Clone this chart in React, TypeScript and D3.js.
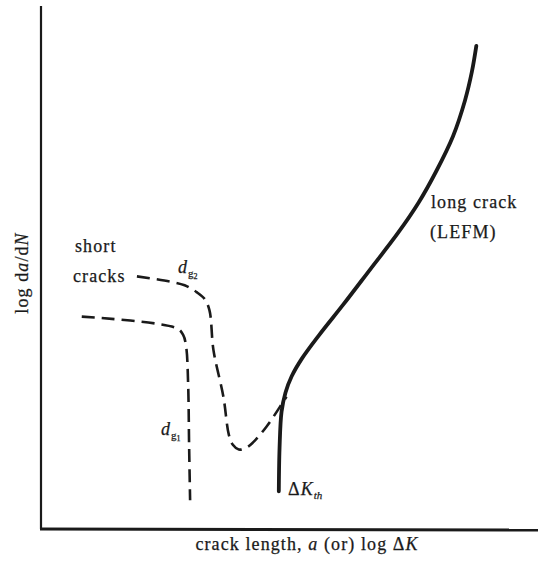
import React from "react";
import * as d3 from "d3";

// Schematic values in arbitrary units (x: 0–100 = crack length / log ΔK, y: 0–100 = log da/dN)
const longCrackX = [47.85, 48.0, 48.4, 49.2, 50.44, 52.52, 55.96, 60.8, 66.32, 71.83, 75.99, 79.44, 82.9, 85.31, 86.7, 87.59];
const longCrackY = [7.2, 15.5, 22.4, 26.1, 29.2, 32.62, 37.08, 42.89, 49.75, 56.6, 62.43, 68.26, 75.11, 81.95, 87.44, 92.37];

const dg2X = [19.3, 26.0, 28.9, 31.3, 32.9, 33.9, 34.7, 36.7, 37.8, 38.6, 39.8, 41.2, 42.5, 45.4, 48.1, 49.4];
const dg2Y = [48.3, 47.3, 46.6, 45.3, 44.0, 41.8, 34.2, 25.3, 18.0, 16.1, 15.2, 15.5, 16.4, 19.6, 23.4, 25.3];

const dg1X = [8.2, 27.3, 28.6, 29.2, 29.6, 29.8, 30.0];
const dg1Y = [40.6, 38.4, 37.1, 34.9, 27.9, 16.0, 5.5];

const xLabel = "crack length, ";
const yLabel = "log d";

const W = 538;
const H = 562;
const serif = "Liberation Serif";
const ink = "#1a1a1a";

export default function App() {
  const x = d3.scaleLinear().domain([0, 100]).range([41, 538]);
  const y = d3.scaleLinear().domain([0, 100]).range([529, 6]);

  const line = d3
    .line<[number, number]>()
    .x((d) => x(d[0]))
    .y((d) => y(d[1]))
    .curve(d3.curveCatmullRom.alpha(0.5));

  const zip = (a: number[], b: number[]) => a.map((v, i) => [v, b[i]] as [number, number]);

  const tp = { fontFamily: serif, fontSize: 18, letterSpacing: 1.1, fill: ink, stroke: ink, strokeWidth: 0.25 };

  return (
    <svg width={W} height={H} style={{ position: "absolute", left: 0, top: 0, background: "#fff" }}>
      {/* axes */}
      <line x1={x(0)} y1={y(100)} x2={x(0)} y2={y(0)} stroke={ink} strokeWidth={2.2} />
      <line x1={x(0) - 1} y1={y(0)} x2={x(100)} y2={y(0) + 1} stroke={ink} strokeWidth={3} />

      {/* curves */}
      <path d={line(zip(dg1X, dg1Y)) || ""} fill="none" stroke={ink} strokeWidth={2.6} strokeDasharray="13,7" />
      <path d={line(zip(dg2X, dg2Y)) || ""} fill="none" stroke={ink} strokeWidth={2.6} strokeDasharray="13,7" />
      <path d={line(zip(longCrackX, longCrackY)) || ""} fill="none" stroke={ink} strokeWidth={3.8} strokeLinecap="round" />

      {/* annotations */}
      <text x={75} y={252} {...tp}>short</text>
      <text x={73} y={282} {...tp}>cracks</text>
      <text x={431} y={208} {...tp}>long crack</text>
      <text x={430} y={238} {...tp}>(LEFM)</text>

      <text x={178} y={272.5} {...tp}>
        <tspan fontStyle="italic">d</tspan>
        <tspan fontSize={11} dy={4} letterSpacing={0}>g</tspan>
        <tspan fontSize={8} dy={2} letterSpacing={0}>2</tspan>
      </text>
      <text x={161} y={435} {...tp}>
        <tspan fontStyle="italic">d</tspan>
        <tspan fontSize={11} dy={4} letterSpacing={0}>g</tspan>
        <tspan fontSize={8} dy={2} letterSpacing={0}>1</tspan>
      </text>
      <text x={288} y={495} {...tp}>
        <tspan>Δ</tspan>
        <tspan fontStyle="italic">K</tspan>
        <tspan fontStyle="italic" fontSize={11} dy={4} letterSpacing={0}>th</tspan>
      </text>

      <text x={307} y={550} textAnchor="middle" {...tp}>
        <tspan>{xLabel}</tspan>
        <tspan fontStyle="italic">a</tspan>
        <tspan> (or) log Δ</tspan>
        <tspan fontStyle="italic">K</tspan>
      </text>
      <text transform="translate(28,273) rotate(-90)" textAnchor="middle" {...tp}>
        <tspan>{yLabel}</tspan>
        <tspan fontStyle="italic">a</tspan>
        <tspan>/d</tspan>
        <tspan fontStyle="italic">N</tspan>
      </text>
    </svg>
  );
}
